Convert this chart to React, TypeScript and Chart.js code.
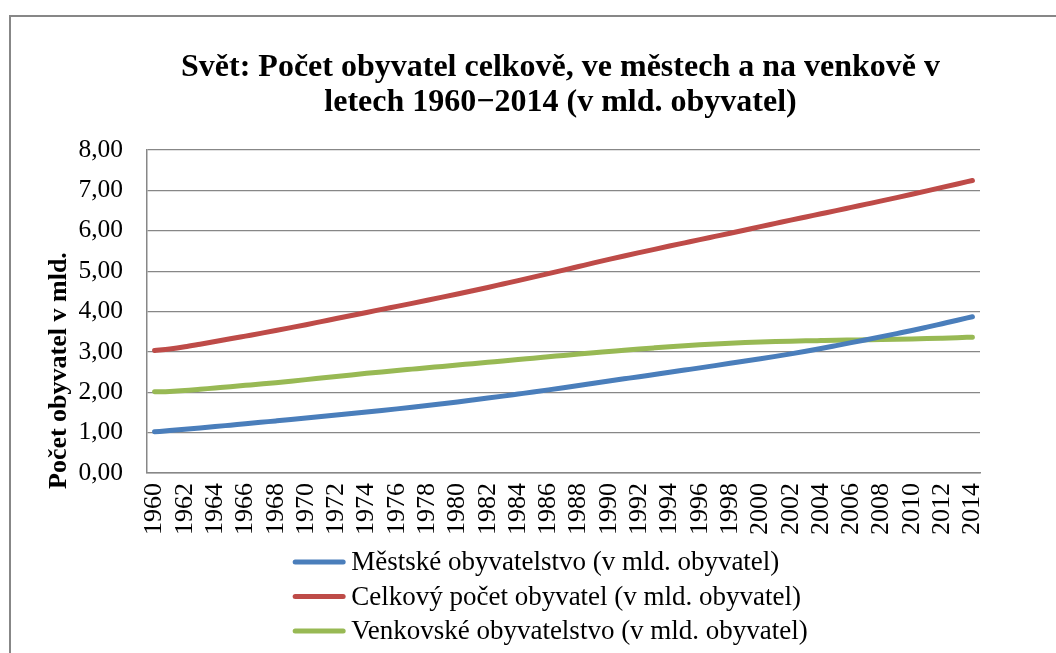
import React, { useEffect, useRef } from "react";
import { Chart, registerables } from "chart.js";

Chart.register(...registerables);

const years = [
  "1960", "1961", "1962", "1963", "1964", "1965", "1966", "1967", "1968", "1969",
  "1970", "1971", "1972", "1973", "1974", "1975", "1976", "1977", "1978", "1979",
  "1980", "1981", "1982", "1983", "1984", "1985", "1986", "1987", "1988", "1989",
  "1990", "1991", "1992", "1993", "1994", "1995", "1996", "1997", "1998", "1999",
  "2000", "2001", "2002", "2003", "2004", "2005", "2006", "2007", "2008", "2009",
  "2010", "2011", "2012", "2013", "2014",
];

const urban = [
  1.020, 1.051, 1.083, 1.116, 1.150, 1.185, 1.220, 1.255, 1.290, 1.325,
  1.360, 1.397, 1.434, 1.471, 1.509, 1.548, 1.588, 1.629, 1.671, 1.715,
  1.760, 1.807, 1.855, 1.904, 1.955, 2.006, 2.059, 2.113, 2.168, 2.224,
  2.280, 2.333, 2.386, 2.440, 2.494, 2.549, 2.604, 2.660, 2.716, 2.772,
  2.829, 2.888, 2.950, 3.015, 3.083, 3.155, 3.228, 3.302, 3.377, 3.453,
  3.530, 3.613, 3.698, 3.783, 3.870,
];

const total = [
  3.032, 3.072, 3.125, 3.190, 3.256, 3.323, 3.391, 3.459, 3.528, 3.600,
  3.673, 3.749, 3.825, 3.901, 3.977, 4.052, 4.127, 4.202, 4.278, 4.355,
  4.434, 4.514, 4.596, 4.680, 4.764, 4.850, 4.937, 5.025, 5.114, 5.203,
  5.290, 5.375, 5.458, 5.540, 5.621, 5.701, 5.781, 5.860, 5.939, 6.020,
  6.102, 6.182, 6.262, 6.341, 6.420, 6.499, 6.579, 6.659, 6.739, 6.821,
  6.904, 6.988, 7.073, 7.159, 7.246,
];

const rural = [
  2.012, 2.021, 2.042, 2.074, 2.106, 2.138, 2.171, 2.204, 2.238, 2.275,
  2.313, 2.352, 2.391, 2.430, 2.468, 2.504, 2.539, 2.573, 2.607, 2.640,
  2.674, 2.707, 2.741, 2.776, 2.809, 2.844, 2.878, 2.912, 2.946, 2.979,
  3.010, 3.042, 3.072, 3.100, 3.127, 3.152, 3.175, 3.196, 3.215, 3.231,
  3.245, 3.256, 3.265, 3.273, 3.280, 3.287, 3.293, 3.299, 3.305, 3.312,
  3.320, 3.329, 3.340, 3.352, 3.365,
];

const seriesNames = [
  "Městské obyvatelstvo (v mld. obyvatel)",
  "Celkový počet obyvatel (v mld. obyvatel)",
  "Venkovské obyvatelstvo (v mld. obyvatel)",
];

const titleLines = [
  "Svět: Počet obyvatel celkově, ve městech a na venkově v",
  "letech 1960−2014 (v mld. obyvatel)",
];

const yAxisTitle = "Počet obyvatel v mld.";

const COLORS = ["#4A7EBB", "#BE4B48", "#98B954"];
const SERIF = '"Liberation Serif", "Times New Roman", serif';
const GRID = "#878787";

const decorPlugin = {
  id: "decor",
  beforeDraw(chart: any) {
    const ctx = chart.ctx;
    ctx.save();
    ctx.strokeStyle = GRID;
    ctx.lineWidth = 2;
    ctx.beginPath();
    ctx.moveTo(10, chart.height + 10);
    ctx.lineTo(10, 16);
    ctx.lineTo(chart.width + 10, 16);
    ctx.stroke();
    ctx.restore();
  },
  afterDraw(chart: any) {
    const ctx = chart.ctx;
    const area = chart.chartArea;
    const cx = (area.left + area.right) / 2;
    ctx.save();
    ctx.fillStyle = "#000";
    // title
    ctx.font = `bold 32px ${SERIF}`;
    ctx.textAlign = "center";
    ctx.textBaseline = "middle";
    ctx.fillText(titleLines[0], cx - 3, area.top - 82);
    ctx.fillText(titleLines[1], cx - 3, area.top - 47);
    // y axis title
    ctx.save();
    ctx.translate(area.left - 88, area.bottom + 16);
    ctx.rotate(-Math.PI / 2);
    ctx.font = `bold 26px ${SERIF}`;
    ctx.textAlign = "left";
    ctx.textBaseline = "middle";
    ctx.fillText(yAxisTitle, 0, 0);
    ctx.restore();
    // legend
    ctx.font = `27px ${SERIF}`;
    ctx.textAlign = "left";
    ctx.textBaseline = "middle";
    const widths = seriesNames.map((n) => ctx.measureText(n).width);
    const maxW = Math.max(...widths);
    const sample = 52;
    const gap = 6;
    const blockW = sample + gap + maxW;
    const x0 = cx - 13 - blockW / 2;
    seriesNames.forEach((name, i) => {
      const y = area.bottom + 89 + i * 34.5;
      ctx.strokeStyle = COLORS[i];
      ctx.lineWidth = 5;
      ctx.lineCap = "round";
      ctx.beginPath();
      ctx.moveTo(x0 + 2, y);
      ctx.lineTo(x0 + sample - 2, y);
      ctx.stroke();
      ctx.fillStyle = "#000";
      ctx.fillText(name, x0 + sample + gap, y + 1);
    });
    ctx.restore();
  },
};

export default function App() {
  const ref = useRef<HTMLCanvasElement | null>(null);

  useEffect(() => {
    if (!ref.current) return;
    const data = [urban, total, rural];
    const chart = new Chart(ref.current, {
      type: "line",
      data: {
        labels: years,
        datasets: data.map((d, i) => ({
          label: seriesNames[i],
          data: d,
          borderColor: COLORS[i],
          backgroundColor: COLORS[i],
          borderWidth: 5,
          borderCapStyle: "round" as const,
          borderJoinStyle: "round" as const,
          pointRadius: 0,
          cubicInterpolationMode: "monotone" as const,
          fill: false,
        })),
      },
      options: {
        animation: false,
        responsive: true,
        maintainAspectRatio: false,
        layout: { padding: { top: 150, right: 76, left: 0, bottom: 0 } },
        plugins: {
          legend: { display: false },
          title: { display: false },
          tooltip: { enabled: false },
        },
        scales: {
          x: {
            offset: true,
            grid: { display: false, drawTicks: false },
            border: { display: true, color: GRID, width: 1.5 },
            ticks: {
              autoSkip: false,
              maxRotation: 90,
              minRotation: 90,
              padding: 10,
              color: "#000",
              font: { family: SERIF, size: 26 },
              callback: (_v: any, i: number) => (i % 2 === 0 ? years[i] : ""),
            },
            afterFit: (s: any) => {
              s.height = 180;
            },
          },
          y: {
            min: 0,
            max: 8,
            grid: { color: GRID, lineWidth: 1.2, drawTicks: false },
            border: { display: true, color: GRID, width: 1.5 },
            ticks: {
              stepSize: 1,
              padding: 24,
              color: "#000",
              font: { family: SERIF, size: 25.5 },
              callback: (v: any) => Number(v).toFixed(2).replace(".", ","),
            },
            afterFit: (s: any) => {
              s.width = 147;
            },
          },
        },
      },
      plugins: [decorPlugin],
    });
    return () => chart.destroy();
  }, []);

  return (
    <div style={{ position: "absolute", left: 0, top: 0, width: 1056, height: 653, background: "#fff" }}>
      <canvas ref={ref} />
    </div>
  );
}
